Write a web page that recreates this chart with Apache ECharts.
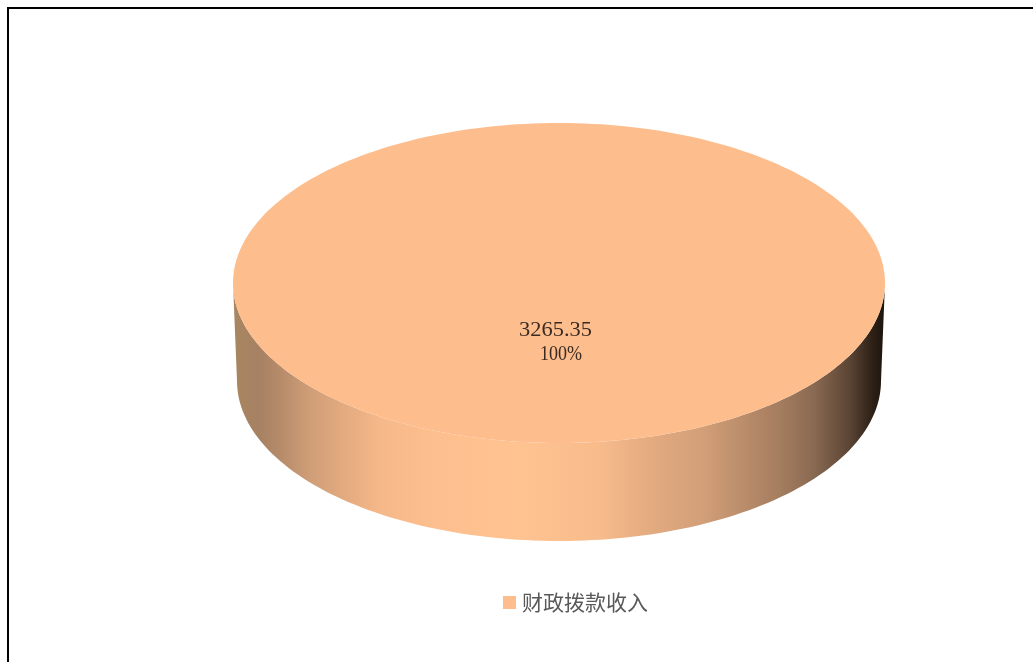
<!DOCTYPE html>
<html><head><meta charset="utf-8">
<style>html,body{margin:0;padding:0;background:#fff}#c{width:1033px;height:662px}</style>
<script src="https://cdn.jsdelivr.net/npm/echarts@6/dist/echarts.min.js"></script>
</head><body><div id="c"></div>
<script>
const seriesNames = ['财政拨款收入'];
const seriesValues = [3265.35];
const percentLabels = ['100%'];
const chart = echarts.init(document.getElementById('c'), null, {renderer:'canvas'});
const TOP = '#FDBD8D';
const total = seriesValues.reduce((a,b)=>a+b,0);
function pts(cx,cy,rx,ry,a0,a1,n){const r=[];for(let i=0;i<=n;i++){const t=a0+(a1-a0)*i/n;r.push([cx+rx*Math.cos(t),cy+ry*Math.sin(t)]);}return r;}
function renderItem(params, api){
  const share = api.value(0)/total;
  const cx=559, cy=283, rx=326, ry=160, cyB=381, rxB=322;
  const top = pts(cx,cy,rx,ry,0,Math.PI*2*share,240);
  const wall = pts(cx,cy,rx,ry,0,Math.PI,120).concat(pts(cx,cyB,rxB,ry,Math.PI,0,120));
  return {type:'group',children:[
    {type:'polygon',shape:{points:wall},style:{fill:new echarts.graphic.LinearGradient(0,0,1,0,[
      {offset:0,color:'#A98661'},{offset:0.04,color:'#A68163'},{offset:0.072,color:'#B68B6A'},
      {offset:0.118,color:'#CF9E78'},{offset:0.16,color:'#DFA87E'},{offset:0.225,color:'#F5B889'},{offset:0.30,color:'#FDBE8E'},
      {offset:0.44,color:'#FFC391'},{offset:0.56,color:'#F8BC8C'},{offset:0.655,color:'#E0A87E'},
      {offset:0.72,color:'#D29F78'},{offset:0.84,color:'#A47C5F'},{offset:0.89,color:'#8A6A52'},{offset:0.945,color:'#5C4535'},
      {offset:0.98,color:'#2E2117'},{offset:1,color:'#1C130B'}])}},
    {type:'polygon',shape:{points:top},style:{fill:TOP}},
    {type:'text',x:555.5,y:331,scaleX:1.12,style:{text:String(api.value(0)),fill:'#3A2A22',font:'20px "Liberation Serif"',align:'center',verticalAlign:'middle'}},
    {type:'text',x:561,y:355,scaleX:0.9,style:{text:percentLabels[params.dataIndex],fill:'#3A2A22',font:'20px "Liberation Serif"',align:'center',verticalAlign:'middle'}}
  ]};
}
chart.setOption({
  animation:false,
  backgroundColor:'#fff',
  legend:{show:true,data:seriesNames,left:498,top:587,icon:'rect',itemWidth:13,itemHeight:13,itemGap:6,
    textStyle:{fontFamily:'"Noto Sans CJK SC"',fontSize:21,color:'#595959',padding:[0,0,0,1]}},
  graphic:[
    {type:'line',shape:{x1:7,y1:8,x2:1033,y2:8},style:{stroke:'#000',lineWidth:2}},
    {type:'line',shape:{x1:8,y1:7,x2:8,y2:662},style:{stroke:'#000',lineWidth:2}}
  ],
  series:[{type:'custom',name:seriesNames[0],coordinateSystem:'none',renderItem,itemStyle:{color:TOP},data:seriesValues.map(v=>[v]),silent:true}]
});
</script></body></html>
